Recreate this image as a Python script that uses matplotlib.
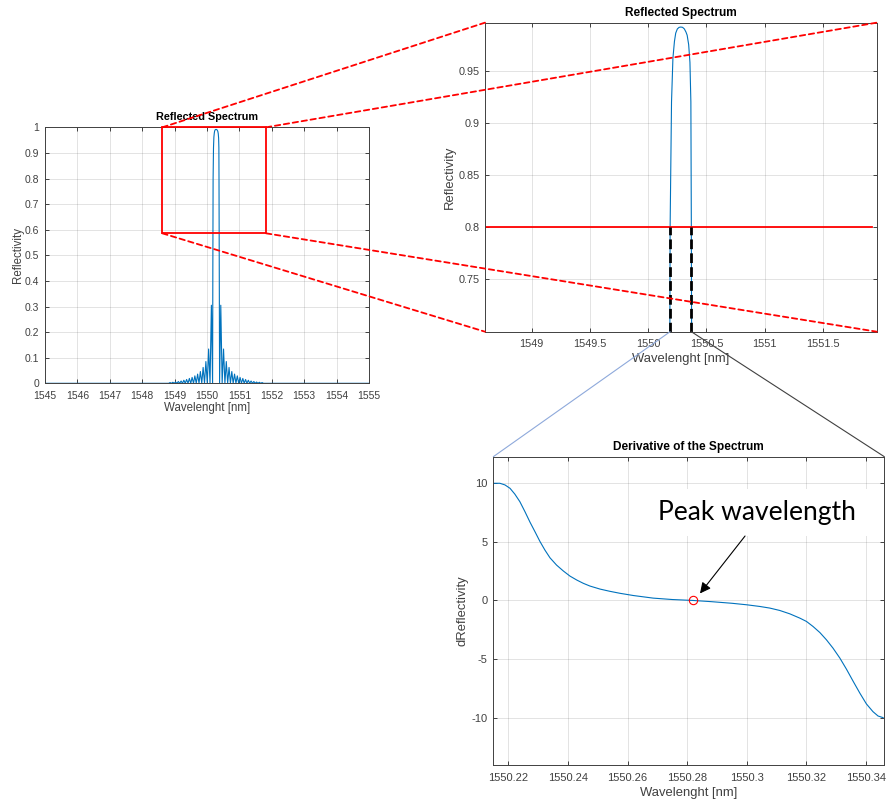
import matplotlib.pyplot as plt
from matplotlib.patches import Rectangle, ConnectionPatch

# Reflected spectrum: wavelength [nm] and reflectivity
spec_wl = [1545.0, 1548.818, 1548.860, 1548.903, 1548.945, 1548.988, 1549.030,
           1549.073, 1549.115, 1549.158, 1549.200, 1549.243, 1549.285, 1549.328,
           1549.370, 1549.413, 1549.455, 1549.498, 1549.540, 1549.583, 1549.625,
           1549.668, 1549.710, 1549.753, 1549.795, 1549.838, 1549.880, 1549.923,
           1549.965, 1550.008, 1550.050, 1550.093, 1550.135,
           1550.172, 1550.180, 1550.188, 1550.200, 1550.212, 1550.225, 1550.236,
           1550.250, 1550.265, 1550.280, 1550.295, 1550.310, 1550.324, 1550.334,
           1550.347, 1550.358, 1550.366, 1550.370, 1550.378, 1550.388,
           1550.425, 1550.467, 1550.510, 1550.552, 1550.595, 1550.637, 1550.680,
           1550.722, 1550.765, 1550.807, 1550.850, 1550.892, 1550.935, 1550.977,
           1551.020, 1551.062, 1551.105, 1551.147, 1551.190, 1551.232, 1551.275,
           1551.317, 1551.360, 1551.402, 1551.445, 1551.487, 1551.530, 1551.572,
           1551.615, 1551.657, 1551.700, 1551.742, 1555.0]
spec_R = [0.0, 0.0, 0.003, 0.0, 0.004, 0.0, 0.005,
          0.0, 0.007, 0.0, 0.009, 0.0, 0.012, 0.0,
          0.015, 0.0, 0.019, 0.0, 0.023, 0.0, 0.029,
          0.0, 0.036, 0.0, 0.046, 0.0, 0.062, 0.0,
          0.085, 0.0, 0.134, 0.0, 0.305,
          0.0, 0.45, 0.80, 0.92, 0.962, 0.978, 0.986,
          0.990, 0.9915, 0.9918, 0.9915, 0.990, 0.987, 0.984,
          0.975, 0.958, 0.92, 0.80, 0.45, 0.0,
          0.305, 0.0, 0.134, 0.0, 0.085, 0.0, 0.062,
          0.0, 0.046, 0.0, 0.036, 0.0, 0.029, 0.0,
          0.023, 0.0, 0.019, 0.0, 0.015, 0.0, 0.012,
          0.0, 0.009, 0.0, 0.007, 0.0, 0.005, 0.0,
          0.004, 0.0, 0.003, 0.0, 0.0]

# Derivative of the spectrum
der_wl = [1550.2150, 1550.2172, 1550.2189, 1550.2206, 1550.2222, 1550.2239,
          1550.2256, 1550.2273, 1550.2290, 1550.2306, 1550.2323, 1550.2340,
          1550.2362, 1550.2385, 1550.2407, 1550.2430, 1550.2452, 1550.2474,
          1550.2508, 1550.2541, 1550.2575, 1550.2620, 1550.2686, 1550.2750,
          1550.2820, 1550.2880, 1550.2950, 1550.3000, 1550.3043, 1550.3077,
          1550.3110, 1550.3144, 1550.3178, 1550.3200, 1550.3222, 1550.3245,
          1550.3267, 1550.3289, 1550.3312, 1550.3334, 1550.3357, 1550.3379,
          1550.3401, 1550.3423, 1550.3440, 1550.3457]
der_val = [10.0, 10.0, 9.86, 9.57, 9.08, 8.43,
           7.58, 6.68, 5.85, 5.05, 4.30, 3.64,
           3.02, 2.51, 2.08, 1.74, 1.46, 1.23,
           0.97, 0.78, 0.61, 0.42, 0.20, 0.08,
           0.0, -0.10, -0.24, -0.37, -0.51, -0.65,
           -0.85, -1.14, -1.51, -1.79, -2.22, -2.74,
           -3.36, -4.07, -4.92, -5.86, -6.92, -7.91,
           -8.83, -9.49, -9.86, -10.0]

peak_wl = 1550.282
peak_val = 0.0
threshold = 0.8
cross_wl = [1550.188, 1550.370]

zoom_x = (1548.62, 1551.82)
zoom_y = (0.586, 1.0)

blue = '#0072BD'
txt = '#262626'

plt.rcParams['font.family'] = ['Liberation Sans', 'DejaVu Sans']
plt.rcParams['axes.unicode_minus'] = False


def matlab_style(ax, fs):
    ax.grid(True, color=txt, alpha=0.15, lw=0.6)
    ax.tick_params(direction='in', top=True, right=True, length=3,
                   width=0.6, colors=txt, labelsize=fs, labelcolor='#404040')
    ax.tick_params(axis='x', pad=5.5)
    ax.tick_params(axis='y', pad=4)
    for s in ax.spines.values():
        s.set_color('#404040')
        s.set_linewidth(0.7)


fig = plt.figure(figsize=(8.86, 8.09), dpi=100)

# Full spectrum
ax1 = fig.add_axes([0.0508, 0.5262, 0.3657, 0.3164])
ax1.plot(spec_wl, spec_R, color=blue, lw=0.8)
ax1.set_xlim(1545, 1555)
ax1.set_ylim(0, 1)
ax1.set_xticks(range(1545, 1556))
ax1.set_yticks([i / 10 for i in range(11)])
ax1.set_yticklabels(['0', '0.1', '0.2', '0.3', '0.4', '0.5', '0.6', '0.7',
                     '0.8', '0.9', '1'])
matlab_style(ax1, 7.5)
ax1.set_title('Reflected Spectrum', fontsize=7.8, fontweight='bold', pad=5)
ax1.set_xlabel('Wavelenght [nm]', fontsize=8.3, color='#404040', labelpad=1)
ax1.set_ylabel('Reflectivity', fontsize=8.3, color='#404040', labelpad=1)
ax1.add_patch(Rectangle((zoom_x[0], zoom_y[0]), zoom_x[1] - zoom_x[0],
                        zoom_y[1] - zoom_y[0], fill=False, ec='red', lw=1.3,
                        zorder=5, clip_on=False))

# Zoomed spectrum
ax2 = fig.add_axes([0.5474, 0.59, 0.4421, 0.382])
ax2.plot(spec_wl, spec_R, color=blue, lw=0.8)
ax2.set_xlim(1548.6, 1551.96)
ax2.set_ylim(0.7, 0.996)
ax2.set_xticks([1549, 1549.5, 1550, 1550.5, 1551, 1551.5])
ax2.set_yticks([0.75, 0.8, 0.85, 0.9, 0.95])
ax2.set_xticklabels(['1549', '1549.5', '1550', '1550.5', '1551', '1551.5'])
ax2.set_yticklabels(['0.75', '0.8', '0.85', '0.9', '0.95'])
matlab_style(ax2, 7.8)
ax2.set_title('Reflected Spectrum', fontsize=8.6, fontweight='bold', pad=5)
ax2.set_xlabel('Wavelenght [nm]', fontsize=9.4, color='#404040', labelpad=3)
ax2.set_ylabel('Reflectivity', fontsize=9.4, color='#404040', labelpad=2)
ax2.plot([1548.6, 1551.92], [threshold, threshold], color='red', lw=1.3)
for w in cross_wl:
    ax2.plot([w, w], [0.7, threshold], color='black', lw=2, ls=(0, (3.5, 1.5)))

# Derivative
ax3 = fig.add_axes([0.5568, 0.0544, 0.4413, 0.3811])
ax3.plot(der_wl, der_val, color=blue, lw=0.8)
ax3.plot([peak_wl], [peak_val], 'o', mfc='none', mec='red', ms=6, mew=0.8)
ax3.set_xlim(1550.215, 1550.3461)
ax3.set_ylim(-14.04, 12.27)
ax3.set_xticks([1550.22, 1550.24, 1550.26, 1550.28, 1550.30, 1550.32, 1550.34])
ax3.set_xticklabels(['1550.22', '1550.24', '1550.26', '1550.28', '1550.3',
                     '1550.32', '1550.34'])
ax3.set_yticks([-10, -5, 0, 5, 10])
matlab_style(ax3, 8)
ax3.set_title('Derivative of the Spectrum', fontsize=8.6, fontweight='bold', pad=5)
ax3.set_xlabel('Wavelenght [nm]', fontsize=9.4, color='#404040', labelpad=3)
ax3.set_ylabel('dReflectivity', fontsize=9.4, color='#404040', labelpad=2)
ax3.text(1550.3033, 7.5, 'Peak wavelength', fontsize=19, family='Lato',
         ha='center', va='center', color='black',
         bbox=dict(fc='white', ec='none', pad=8))
ax3.annotate('', xy=(1550.2843, 0.6), xytext=(1550.2994, 5.5),
             arrowprops=dict(arrowstyle='-|>', color='black', lw=0.8,
                             mutation_scale=16, shrinkA=0, shrinkB=0))

# Zoom connectors: left rectangle -> zoomed axes
corners = [((zoom_x[0], zoom_y[1]), (0, 1)), ((zoom_x[1], zoom_y[1]), (1, 1)),
           ((zoom_x[0], zoom_y[0]), (0, 0)), ((zoom_x[1], zoom_y[0]), (1, 0))]
for a, b in corners:
    con = ConnectionPatch(xyA=a, coordsA=ax1.transData, xyB=b,
                          coordsB=ax2.transAxes, color='red', lw=1.3,
                          ls=(0, (3, 2)), zorder=10)
    fig.add_artist(con)

# Threshold crossings -> derivative axes
for w, corner, col in [(cross_wl[0], (0, 1), '#8EA9DB'),
                       (cross_wl[1], (1, 1), '#404040')]:
    con = ConnectionPatch(xyA=(w, 0.7), coordsA=ax2.transData, xyB=corner,
                          coordsB=ax3.transAxes, color=col, lw=0.8, zorder=10)
    fig.add_artist(con)

fig.savefig('out.png', dpi=100)
